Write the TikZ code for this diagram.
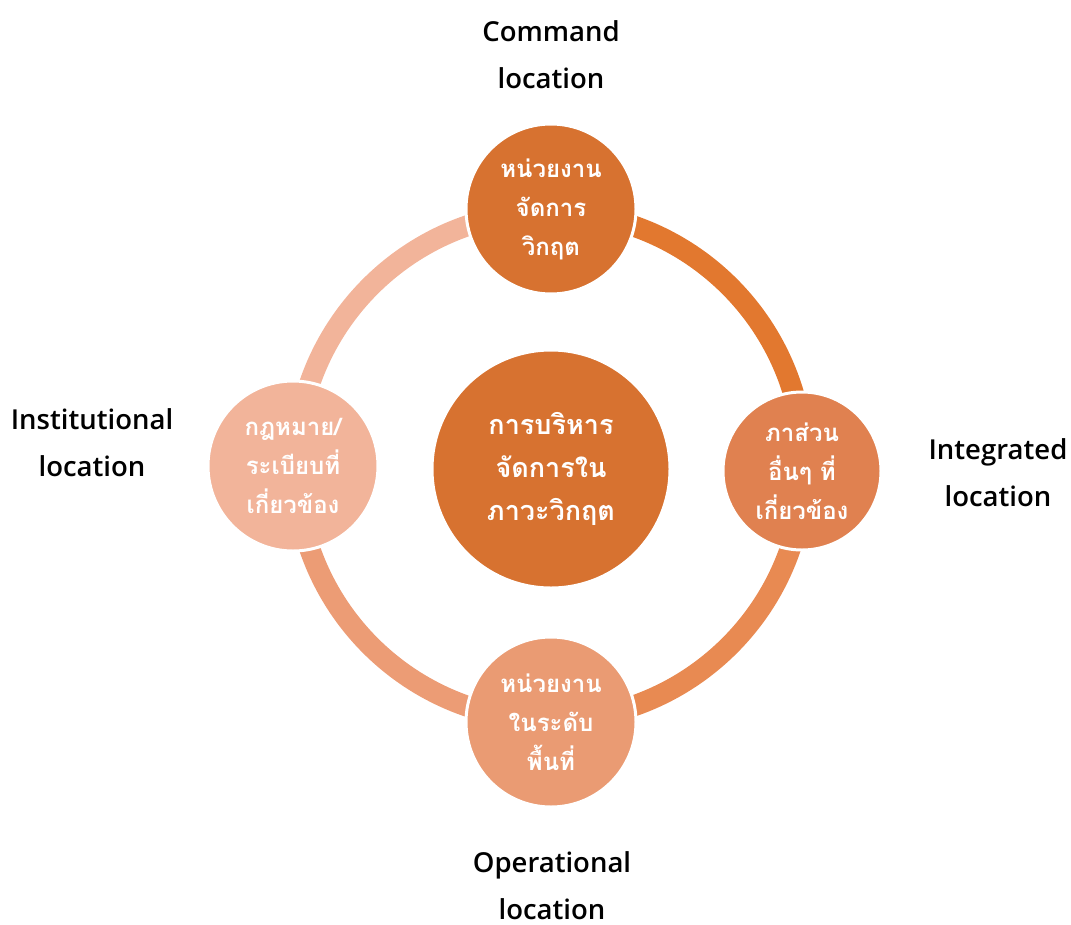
\documentclass[tikz,border=0pt]{standalone}
\usepackage{fontspec}
\setmainfont{Open Sans}[BoldFont={Open Sans Semibold}]
\newfontfamily\thaifont[Script=Thai]{Loma}
\definecolor{cMain}{HTML}{D77230}
\definecolor{cTop}{HTML}{D77230}
\definecolor{cRight}{HTML}{E08150}
\definecolor{cBottom}{HTML}{EA9B73}
\definecolor{cLeft}{HTML}{F2B49A}
\definecolor{aTR}{HTML}{E2782F}
\definecolor{aRB}{HTML}{E88A52}
\definecolor{aBL}{HTML}{EC9C75}
\definecolor{aLT}{HTML}{F2B49A}
\tikzset{
  hub/.style={circle, draw=white, line width=3pt, inner sep=0pt, text=white,
    align=center, font=\thaifont\bfseries\fontsize{27}{43}\selectfont},
  spoke/.style={circle, draw=white, line width=3pt, inner sep=0pt, text=white,
    align=center, font=\thaifont\bfseries\fontsize{24}{39}\selectfont},
  caption/.style={align=center, text=black, font=\bfseries\fontsize{27.5}{47}\selectfont},
  ring/.style={line width=21pt}
}
\begin{document}
\begin{tikzpicture}[x=1pt,y=-1pt]
  \useasboundingbox (0,0) rectangle (1071,924);
  % ring centre
  \coordinate (rc) at (550,466);
  % ring segments between neighbouring circles
  \draw[ring, aRB] (rc) ++(0:254) arc[start angle=0, end angle=90, radius=254];
  \draw[ring, aBL] (rc) ++(90:254) arc[start angle=90, end angle=180, radius=254];
  \draw[ring, aLT] (rc) ++(180:254) arc[start angle=180, end angle=270, radius=254];
  \draw[ring, aTR] (rc) ++(270:254) arc[start angle=270, end angle=360, radius=254];
  % circles
  \node[hub, fill=cMain, minimum size=238pt] (hub) at (551,469) {การบริหาร\\จัดการใน\\ภาวะวิกฤต};
  \node[spoke, fill=cTop, minimum size=170pt] (top) at (551,209) {หน่วยงาน\\จัดการ\\วิกฤต};
  \node[spoke, fill=cRight, minimum size=158pt] (right) at (802,471) {ภาส่วน\\อื่นๆ ที่\\เกี่ยวข้อง};
  \node[spoke, fill=cBottom, minimum size=170pt] (bottom) at (551,722) {หน่วยงาน\\ในระดับ\\พื้นที่};
  \node[spoke, fill=cLeft, minimum size=170pt] (left) at (293,466) {กฎหมาย/\\ระเบียบที่\\เกี่ยวข้อง};
  % captions
  \node[caption] (capT) at (551,55) {Command\\location};
  \node[caption] (capL) at (92,443) {Institutional\\location};
  \node[caption] (capR) at (998,473) {Integrated\\location};
  \node[caption] (capB) at (552,886) {Operational\\location};
\end{tikzpicture}
\end{document}
